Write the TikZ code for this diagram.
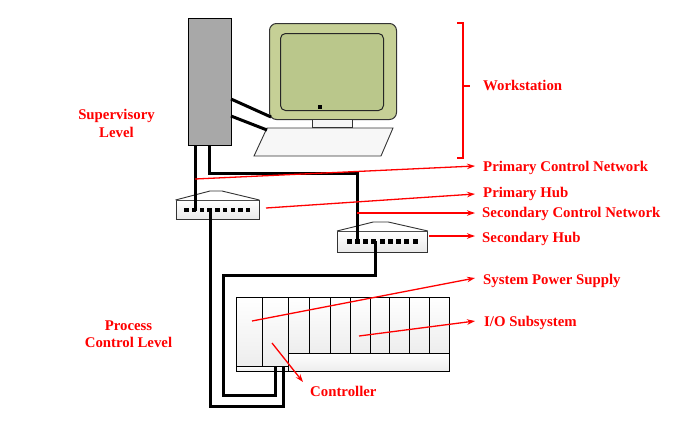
\documentclass[tikz,border=0pt]{standalone}
\usepackage{fontspec}
\setmainfont{Liberation Serif}
\usetikzlibrary{arrows.meta}
\definecolor{towergray}{RGB}{168,168,168}
\definecolor{monout}{RGB}{198,208,150}
\definecolor{monin}{RGB}{186,199,139}
\definecolor{lblred}{RGB}{255,0,0}
\begin{document}
\begin{tikzpicture}[x=1pt,y=-1pt,
  lbl/.style={text=lblred,font=\fontsize{14.8}{17}\selectfont\bfseries,inner sep=0pt,anchor=base west},
  lvl/.style={text=lblred,font=\fontsize{14.8}{17}\selectfont\bfseries,inner sep=0pt,anchor=base},
  cable/.style={line width=3pt,black},
  redline/.style={lblred,line width=1.3pt},
  redarrow/.style={lblred,line width=1.3pt,-{Stealth[length=8pt,width=5.5pt]}},
  hubbody/.style={draw=black!80,line width=0.9pt,top color=white,bottom color=gray!18,inner sep=0pt,anchor=north west},
  slot/.style={draw=black,line width=0.9pt,top color=white,bottom color=gray!14},
  ]
\useasboundingbox (0,0) rectangle (690,421);

% --- workstation ---
\node[draw=black,line width=1pt,fill=towergray,minimum width=43pt,minimum height=127pt,inner sep=0pt,anchor=north west] (tower) at (188,18) {};
\node[draw=black!80,line width=1pt,fill=monout,rounded corners=7pt,minimum width=127pt,minimum height=96pt,inner sep=0pt,anchor=north west] (monitor) at (269,23) {};
\node[draw=black!85,line width=1pt,fill=monin,rounded corners=5pt,minimum width=103pt,minimum height=77pt,inner sep=0pt,anchor=north west] (screen) at (280,33) {};
\fill[black] (318,105) rectangle (322,109);
\node[draw=black!80,line width=0.9pt,fill=gray!8,minimum width=40pt,minimum height=8pt,inner sep=0pt,anchor=north west] (stand) at (312,119) {};
\draw[black!80,line width=0.9pt,fill=gray!6] (267,128) coordinate (kbtl) -- (393,128) -- (381,156) -- (254,156) -- cycle;

% --- hubs ---
\node[hubbody,minimum width=83pt,minimum height=19pt] (phub) at (175.5,200) {};
\draw[black!80,line width=0.9pt,fill=white] (phub.north west) -- (210,191) -- (222,191) -- (phub.north east);
\foreach \i in {0,...,8} \fill[black] ({186.5+7.7*\i-2.2},{210-2.2}) rectangle ++(4.4,4.4);

\node[hubbody,minimum width=90pt,minimum height=21pt] (shub) at (337,231) {};
\draw[black!80,line width=0.9pt,fill=white] (shub.north west) -- (373.3,222) -- (388.3,222) -- (shub.north east);
\foreach \i in {0,...,8} \fill[black] ({349+8.25*\i-2.5},{241.7-2.4}) rectangle ++(5,4.8);

% --- rack ---
\node[draw=black,line width=0.9pt,fill=gray!5,minimum width=213pt,minimum height=74pt,inner sep=0pt,anchor=north west] (rack) at (236,297) {};
\draw[slot] (236,297) rectangle (262,366);
\draw[slot] (262,297) rectangle (288,366);
\draw[slot] (236,366) rectangle (288,371);
\foreach \a/\b in {288/309,309/330,330/350,350/370,370/389,389/409,409/429,429/449}
  \draw[slot] (\a,297) rectangle (\b,353);
\draw[slot] (288,353) rectangle (449,371);

% --- cables ---
\coordinate (tm1) at (231,99);   \coordinate (mon1) at (271,117);
\coordinate (tm2) at (231,116);  \coordinate (kb1) at (267,130);
\draw[cable] (tm1) -- (mon1);
\draw[cable] (tm2) -- (kb1);
\coordinate (tb1) at (195,145); \coordinate (pp2) at (195,211);
\coordinate (tb2) at (209,145); \coordinate (sp2) at (357,243);
\draw[cable] (tb1) -- (pp2);
\draw[cable] (tb2) -- (209,173) -- (357,173) -- (sp2);
\coordinate (pp4) at (210,210); \coordinate (rk1) at (283,366);
\coordinate (sp4) at (375,241); \coordinate (rk2) at (275,366);
\draw[cable] (pp4) -- (210,406) -- (283,406) -- (rk1);
\draw[cable] (sp4) -- (375,275) -- (223,275) -- (223,395) -- (275,395) -- (rk2);

% --- labels ---
\node[lbl] (lws) at (483,90.5) {Workstation};
\node[lbl] (lpcn) at (483,171) {Primary Control Network};
\node[lbl] (lph) at (483,197) {Primary Hub};
\node[lbl] (lscn) at (482,217) {Secondary Control Network};
\node[lbl] (lsh) at (482,242) {Secondary Hub};
\node[lbl] (lsps) at (483,284) {System Power Supply};
\node[lbl] (lio) at (484,326) {I/O Subsystem};
\node[lbl] (lctl) at (310,396) {Controller};
\node[lvl] (lsup1) at (116.5,119) {Supervisory};
\node[lvl] (lsup2) at (116.5,137) {Level};
\node[lvl] (lpro1) at (128.5,330) {Process};
\node[lvl] (lpro2) at (128.5,347) {Control Level};

% --- red annotations ---
\draw[redline] (457,23) -- (463,23) -- (463,158) -- (457,158);
\draw[redline] (463,86) -- (470,86);
\coordinate (s1) at (195,179); \coordinate (e1) at (475,166);
\coordinate (s2) at (266,208); \coordinate (e2) at (475,194);
\coordinate (s3) at (357,213); \coordinate (e3) at (475,213);
\coordinate (s4) at (429,236); \coordinate (e4) at (475,236);
\coordinate (s5) at (252,321); \coordinate (e5) at (475,278);
\coordinate (s6) at (359,336); \coordinate (e6) at (475,321);
\coordinate (s7) at (272,343); \coordinate (e7) at (303,382);
\foreach \k in {1,...,7} \draw[redarrow] (s\k) -- (e\k);
\end{tikzpicture}
\end{document}
